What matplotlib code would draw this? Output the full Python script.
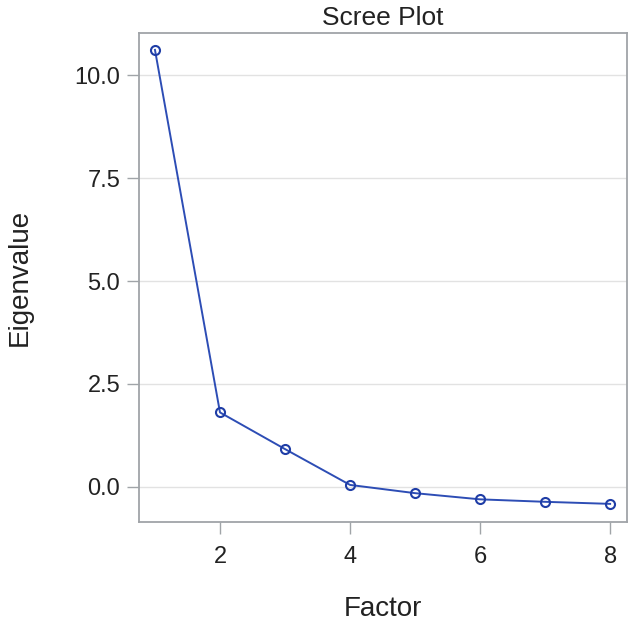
import matplotlib
matplotlib.use("Agg")
import matplotlib.pyplot as plt

factors = [1, 2, 3, 4, 5, 6, 7, 8]
eigenvalues = [10.61, 1.81, 0.92, 0.05, -0.15, -0.30, -0.36, -0.41]
x_ticks = [2, 4, 6, 8]
y_ticks = [0.0, 2.5, 5.0, 7.5, 10.0]

plt.rcParams['font.family'] = ['Liberation Sans', 'DejaVu Sans']

fig = plt.figure(figsize=(6.34, 6.25), dpi=100)
ax = fig.add_axes([0.2192, 0.1648, 0.7698, 0.7824])

ax.plot(factors, eigenvalues, color='#2d4db5', linewidth=1.4,
        marker='o', markersize=6.5, markerfacecolor='none',
        markeredgecolor='#1f3da6', markeredgewidth=1.5, zorder=3)

ax.set_xlim(0.754, 8.26)
ax.set_ylim(-0.85, 11.02)
ax.set_xticks(x_ticks)
ax.set_yticks(y_ticks)
ax.set_yticklabels([f'{v:.1f}' for v in y_ticks])

ax.yaxis.grid(True, color='#e2e2e2', linewidth=1.0)
ax.set_axisbelow(True)
for s in ax.spines.values():
    s.set_color('#a0a4a8')
    s.set_linewidth(1.3)

ax.tick_params(axis='both', length=8.5, width=1.0, color='#a0a4a8',
               labelsize=17, labelcolor='#222222')
ax.tick_params(axis='x', pad=9)
ax.tick_params(axis='y', pad=5)

ax.set_xlabel('Factor', fontsize=20, color='#222222', labelpad=20)
ax.set_ylabel('Eigenvalue', fontsize=20, color='#222222', labelpad=30)
ax.set_title('Scree Plot', fontsize=19, color='#222222', pad=6)

fig.savefig('out.png', dpi=100)
